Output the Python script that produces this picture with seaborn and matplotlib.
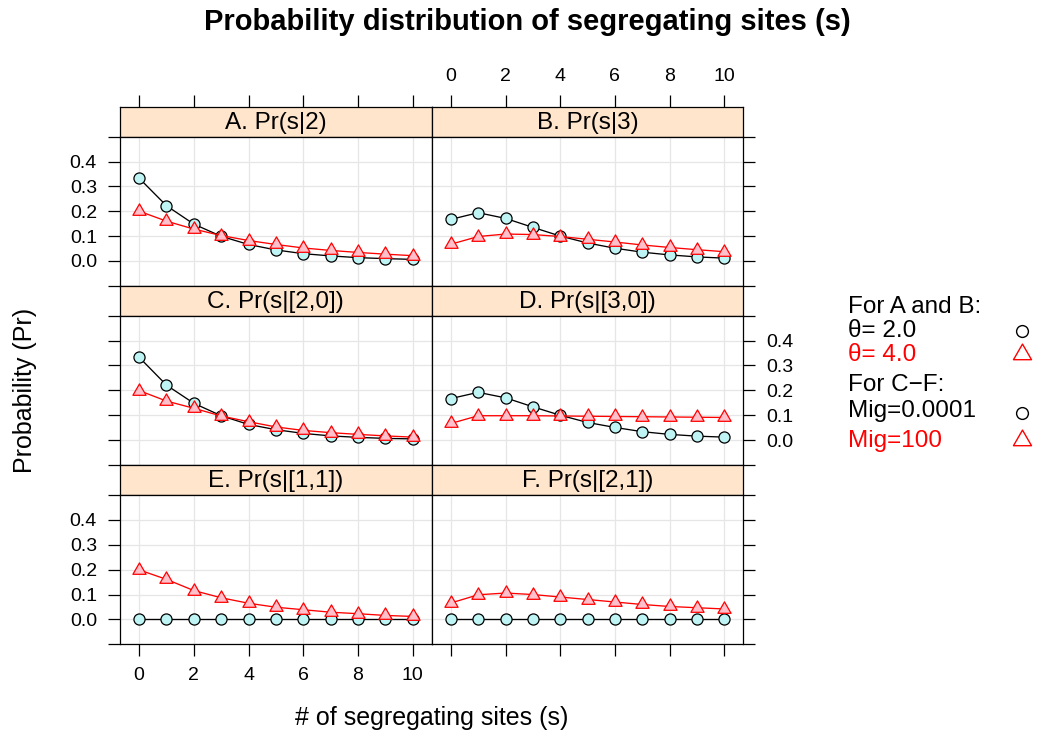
import matplotlib
matplotlib.use("Agg")
import matplotlib.pyplot as plt
from matplotlib.path import Path
import numpy as np
import pandas as pd
import seaborn as sns

# number of segregating sites
sites = list(range(11))

# panel titles
panel_titles = ["A. Pr(s|2)", "B. Pr(s|3)", "C. Pr(s|[2,0])",
                "D. Pr(s|[3,0])", "E. Pr(s|[1,1])", "F. Pr(s|[2,1])"]

# circle series (theta = 2.0 for A/B, Mig = 0.0001 for C-F)
a_low = [0.333, 0.222, 0.148, 0.099, 0.066, 0.044, 0.029, 0.020, 0.013, 0.009, 0.006]
b_low = [0.167, 0.194, 0.171, 0.135, 0.100, 0.072, 0.051, 0.035, 0.024, 0.016, 0.011]
c_low = [0.333, 0.221, 0.148, 0.098, 0.063, 0.042, 0.027, 0.017, 0.011, 0.007, 0.005]
d_low = [0.167, 0.192, 0.170, 0.134, 0.100, 0.071, 0.051, 0.034, 0.023, 0.016, 0.012]
e_low = [0.0] * 11
f_low = [0.0] * 11

# triangle series (theta = 4.0 for A/B, Mig = 100 for C-F)
a_high = [0.200, 0.160, 0.128, 0.102, 0.082, 0.066, 0.052, 0.042, 0.034, 0.027, 0.021]
b_high = [0.067, 0.098, 0.108, 0.106, 0.098, 0.087, 0.076, 0.064, 0.054, 0.045, 0.037]
c_high = [0.199, 0.157, 0.128, 0.097, 0.074, 0.053, 0.039, 0.030, 0.023, 0.017, 0.012]
d_high = [0.067, 0.098, 0.098, 0.098, 0.097, 0.096, 0.095, 0.094, 0.093, 0.092, 0.091]
e_high = [0.199, 0.161, 0.116, 0.087, 0.065, 0.049, 0.039, 0.029, 0.023, 0.016, 0.012]
f_high = [0.066, 0.099, 0.106, 0.100, 0.090, 0.080, 0.070, 0.060, 0.052, 0.047, 0.042]

# tick labels
x_ticks = [0, 2, 4, 6, 8, 10]
y_ticks = [-0.1, 0.0, 0.1, 0.2, 0.3, 0.4, 0.5]
y_tick_labels = ["", "0.0", "0.1", "0.2", "0.3", "0.4", ""]

low_series = [a_low, b_low, c_low, d_low, e_low, f_low]
high_series = [a_high, b_high, c_high, d_high, e_high, f_high]

frames = []
for title, lo, hi in zip(panel_titles, low_series, high_series):
    frames.append(pd.DataFrame({"panel": title, "s": sites, "prob": lo, "group": "low"}))
    frames.append(pd.DataFrame({"panel": title, "s": sites, "prob": hi, "group": "high"}))
df = pd.concat(frames, ignore_index=True)

sns.set_theme(style="white")
plt.rcParams["font.family"] = ["Liberation Sans", "DejaVu Sans"]
plt.rcParams["axes.unicode_minus"] = True
plt.rcParams["xtick.color"] = "black"
plt.rcParams["ytick.color"] = "black"
plt.rcParams["xtick.labelcolor"] = "black"
plt.rcParams["ytick.labelcolor"] = "black"
plt.rcParams["text.color"] = "black"

W, H = 1037, 736
fig = plt.figure(figsize=(W / 100, H / 100), dpi=100)
fig.patch.set_facecolor("white")


def px_axes(x0, y0, x1, y1):
    return fig.add_axes([x0 / W, 1 - y1 / H, (x1 - x0) / W, (y1 - y0) / H])


col_px = [(120.0, 431.7), (431.7, 743.3)]
row_px = [(106.7, 136.7, 285.7), (285.7, 315.7, 465.0), (465.0, 495.0, 644.3)]

XLIM = (-0.7, 10.7)
YLIM = (-0.1, 0.5)
TICK_LEN = 8.6
TICK_W = 0.9
TICK_FS = 14
STRIP_BG = "#ffe5cc"
GRID_C = "#e6e6e6"
LOW_FILL = "#bff4f4"
HIGH_FILL = "#ffc0cb"
# upward triangle centred on its centroid
TRI = Path([(0.0, 1.0), (-0.866, -0.5), (0.866, -0.5), (0.0, 1.0)], closed=True)

for idx, title in enumerate(panel_titles):
    r, c = divmod(idx, 2)
    sx0, sx1 = col_px[c]
    st, pt, pb = row_px[r]

    # strip
    sax = px_axes(sx0, st, sx1, pt)
    sax.set_facecolor(STRIP_BG)
    sax.set_xlim(*XLIM)
    sax.set_ylim(0, 1)
    sax.set_yticks([])
    for sp in sax.spines.values():
        sp.set_color("black")
        sp.set_linewidth(TICK_W)
    sax.text(0.5, 0.45, title, transform=sax.transAxes, ha="center", va="center",
             fontsize=17.5, color="black")
    if r == 0:
        sax.xaxis.set_ticks_position("top")
        sax.set_xticks(x_ticks)
        sax.tick_params(axis="x", direction="out", length=TICK_LEN, width=TICK_W,
                        color="black", labelcolor="black", labelsize=TICK_FS, pad=7,
                        top=True, bottom=False, labeltop=(c == 1), labelbottom=False)
    else:
        sax.set_xticks([])

    # panel
    ax = px_axes(sx0, pt, sx1, pb)
    ax.set_facecolor("white")
    ax.set_xlim(*XLIM)
    ax.set_ylim(*YLIM)
    for gx in x_ticks:
        ax.axvline(gx, color=GRID_C, lw=0.9, zorder=0)
    for gy in y_ticks:
        ax.axhline(gy, color=GRID_C, lw=0.9, zorder=0)

    sub = df[df["panel"] == title]
    lo = sub[sub["group"] == "low"]
    hi = sub[sub["group"] == "high"]
    sns.lineplot(data=lo, x="s", y="prob", color="black", lw=0.95, ax=ax, zorder=2)
    sns.scatterplot(data=lo, x="s", y="prob", marker="o", s=64, color=LOW_FILL,
                    edgecolor="black", linewidth=0.9, ax=ax, zorder=3)
    sns.lineplot(data=hi, x="s", y="prob", color="red", lw=0.95, ax=ax, zorder=4)
    sns.scatterplot(data=hi, x="s", y="prob", marker=TRI, s=120, color=HIGH_FILL,
                    edgecolor="red", linewidth=0.9, ax=ax, zorder=5)

    ax.set_xlabel("")
    ax.set_ylabel("")
    for sp in ax.spines.values():
        sp.set_visible(True)
        sp.set_color("black")
        sp.set_linewidth(TICK_W)

    ax.set_yticks(y_ticks)
    ax.set_yticklabels(y_tick_labels)
    ax.yaxis.set_ticks_position("both")
    left_labels = (c == 0 and r != 1)
    right_labels = (c == 1 and r == 1)
    ax.tick_params(axis="y", direction="out", length=TICK_LEN, width=TICK_W,
                   color="black", labelcolor="black", labelsize=TICK_FS, pad=8,
                   left=(c == 0), right=(c == 1),
                   labelleft=left_labels, labelright=right_labels)

    if r == 2:
        ax.set_xticks(x_ticks)
        ax.xaxis.set_ticks_position("bottom")
        ax.tick_params(axis="x", direction="out", length=TICK_LEN, width=TICK_W,
                       color="black", labelcolor="black", labelsize=TICK_FS, pad=8,
                       bottom=True, top=False, labelbottom=(c == 0), labeltop=False)
    else:
        ax.set_xticks([])

# overlay for titles and key
ov = fig.add_axes([0, 0, 1, 1], facecolor="none")
ov.set_xlim(0, W)
ov.set_ylim(H, 0)
ov.axis("off")

ov.text(527, 22, "Probability distribution of segregating sites (s)", ha="center",
        va="center", fontsize=21, fontweight="bold", color="black")
ov.text(431.5, 718, "# of segregating sites (s)", ha="center", va="center",
        fontsize=18, color="black")
ov.text(25, 390, "Probability (Pr)", ha="center", va="center", rotation=90,
        fontsize=18, color="black")

key_fs = 17.5
ov.text(848, 307, "For A and B:", ha="left", va="center", fontsize=key_fs, color="black")
ov.text(848, 331, "θ= 2.0", ha="left", va="center", fontsize=key_fs, color="black")
ov.text(848, 355, "θ= 4.0", ha="left", va="center", fontsize=key_fs, color="red")
ov.text(848, 385, "For C\u2212F:", ha="left", va="center", fontsize=key_fs, color="black")
ov.text(848, 411, "Mig=0.0001", ha="left", va="center", fontsize=key_fs, color="black")
ov.text(848, 441, "Mig=100", ha="left", va="center", fontsize=key_fs, color="red")

ov.plot([1022], [330.5], marker="o", ms=8.5, mfc="none", mec="black", mew=1.0, ls="none")
ov.plot([1022], [412.5], marker="o", ms=8.5, mfc="none", mec="black", mew=1.0, ls="none")
ov.plot([1022], [354], marker=TRI, ms=15, mfc="none", mec="red", mew=1.0, ls="none")
ov.plot([1022], [440], marker=TRI, ms=15, mfc="none", mec="red", mew=1.0, ls="none")

fig.savefig("out.png", dpi=100, facecolor="white")
